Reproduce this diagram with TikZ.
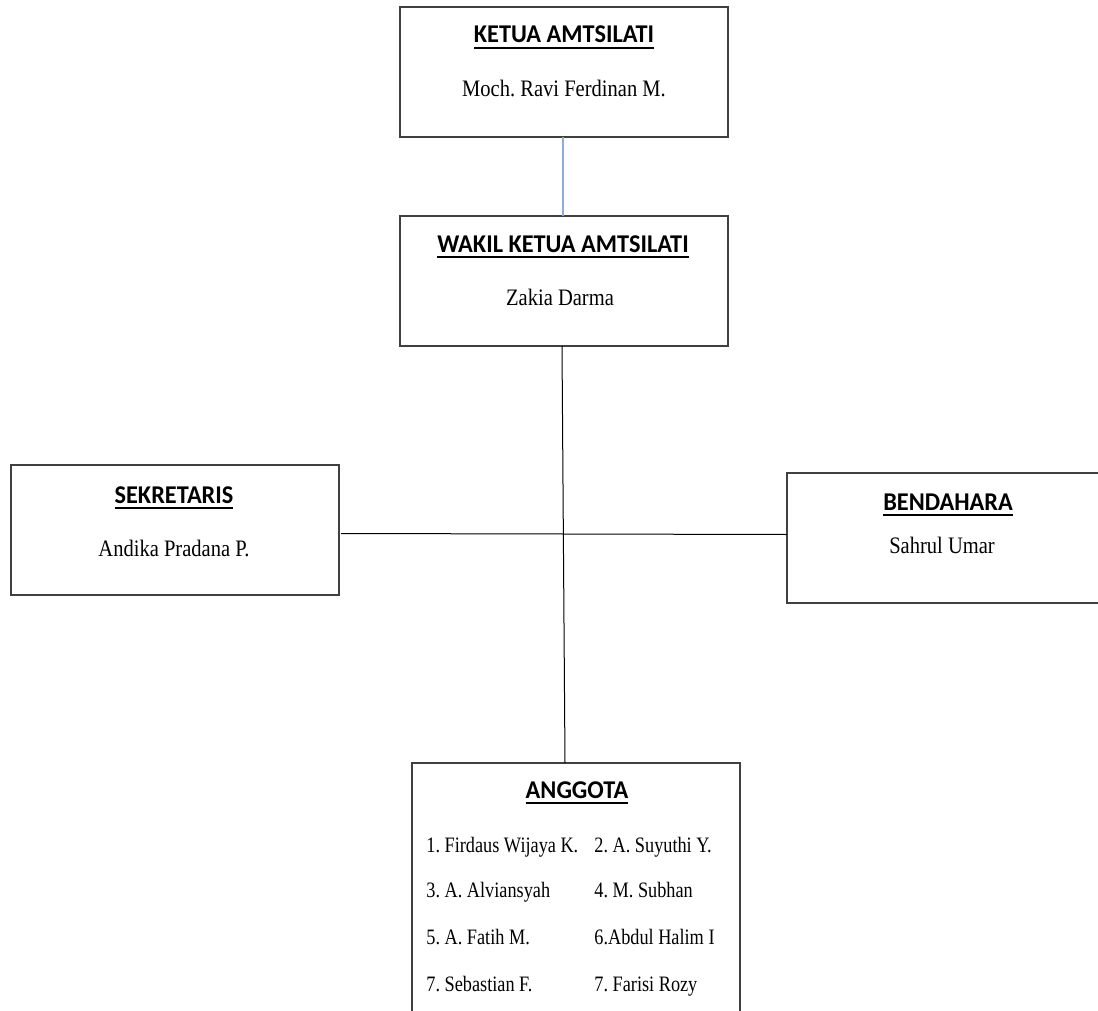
\documentclass[tikz,border=0pt]{standalone}
\usepackage{fontspec}
\setmainfont{Liberation Serif}
\newfontfamily\judulfont[FakeStretch=0.95]{Carlito}
\newfontfamily\namafont[FakeStretch=0.87]{Liberation Serif}
\newfontfamily\barisfont[FakeStretch=0.83]{Liberation Serif}
\newcommand{\garisbawah}[1]{\setbox0=\hbox{#1}\vtop{\copy0\kern2pt\hrule height 1pt width \wd0}}
\tikzset{
  kotak/.style={draw=black!75, line width=0.6pt, anchor=north west, inner sep=0pt, outer sep=0pt, minimum width=164pt, minimum height=65pt},
  judul/.style={anchor=base, inner sep=0pt, font=\judulfont\bfseries\fontsize{12.8}{15}\selectfont},
  nama/.style={anchor=base, inner sep=0pt, font=\namafont\fontsize{11.8}{14}\selectfont},
  baris/.style={anchor=base west, inner sep=0pt, font=\barisfont\fontsize{11}{13}\selectfont},
  garis/.style={line width=0.5pt}
}
\begin{document}
\frenchspacing
\begin{tikzpicture}[x=0.5pt, y=-0.5pt]
  \useasboundingbox (0,0) rectangle (1098,1011);
  % kotak
  \node[kotak] (ketua) at (400,7) {};
  \node[kotak] (wakil) at (400,216) {};
  \node[kotak] (sekretaris) at (11,465) {};
  \node[kotak] (bendahara) at (787,473) {};
  \node[kotak, minimum height=160pt] (anggota) at (412,763) {};

  % garis penghubung
  \draw[line width=0.75pt, draw={rgb,255:red,143;green,170;blue,220}] ([xshift=-0.5pt]ketua.south) -- ([xshift=-0.5pt]wakil.north);
  \draw[garis] ([xshift=-1pt]wakil.south) -- ([xshift=-5.5pt]anggota.north);
  \draw[garis] ([xshift=1pt, yshift=-1.75pt]sekretaris.east) -- ([yshift=1.75pt]bendahara.west);

  % isi
  \node[judul] (tKetua) at (564,43) {\garisbawah{KETUA AMTSILATI}};
  \node[nama] (nKetua) at (564,97) {Moch. Ravi Ferdinan M.};
  \node[judul] (tWakil) at (563,252) {\garisbawah{WAKIL KETUA AMTSILATI}};
  \node[nama] (nWakil) at (560,305) {Zakia Darma};
  \node[judul] (tSekretaris) at (174,503) {\garisbawah{SEKRETARIS}};
  \node[nama] (nSekretaris) at (174,556) {Andika Pradana P.};
  \node[judul] (tBendahara) at (948,510) {\garisbawah{BENDAHARA}};
  \node[nama] (nBendahara) at (942,553) {Sahrul Umar};
  \node[judul] (tAnggota) at (577,798) {\garisbawah{ANGGOTA}};
  \foreach \kiri/\kanan/\y [count=\i] in {1. Firdaus Wijaya K./2. A. Suyuthi Y./852, 3. A. Alviansyah/4. M. Subhan/897, 5. A. Fatih M./6.Abdul Halim I/944, 7. Sebastian F./7. Farisi Rozy/991}{
    \node[baris] (kiri\i) at (426,\y) {\kiri};
    \node[baris] (kanan\i) at (594,\y) {\kanan};
  }
\end{tikzpicture}
\end{document}
